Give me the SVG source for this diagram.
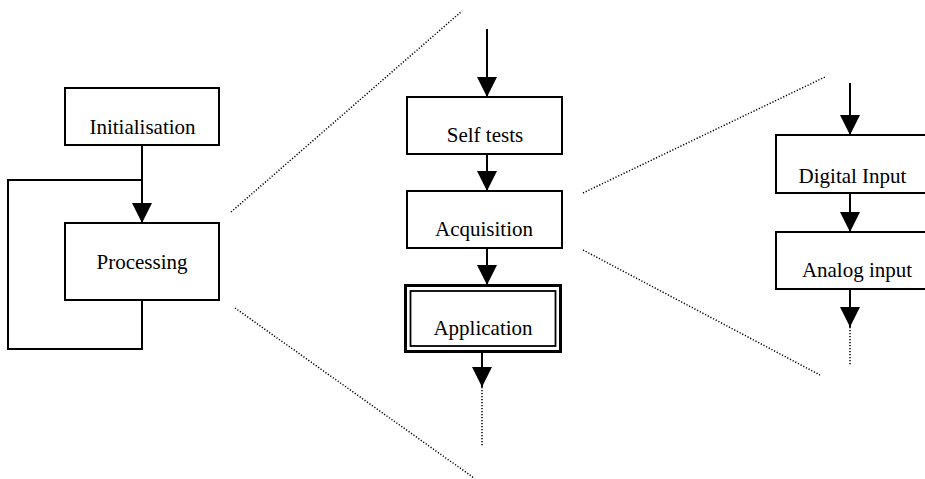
<svg xmlns="http://www.w3.org/2000/svg" width="925" height="479" viewBox="0 0 925 479">
  <style>
    .box { fill: #fff; stroke: #000; stroke-width: 2; }
    .outer { fill: #fff; stroke: #000; stroke-width: 3; }
    .inner { fill: none; stroke: #000; stroke-width: 1.8; }
    .lbl { font-family: "Liberation Serif", "Times New Roman", serif; font-size: 21px; text-anchor: middle; fill: #000; }
    .flow { fill: none; stroke: #000; stroke-width: 2; }
    .dots { fill: none; stroke: #000; stroke-width: 1.5; stroke-dasharray: 1.2 1.8; }
  </style>
  <defs>
    <marker id="tri" markerUnits="userSpaceOnUse" markerWidth="20" markerHeight="20" viewBox="0 -10 20 20" refX="20" refY="0" orient="auto">
      <path d="M0,-10 L20,0 L0,10 Z" fill="#000"/>
    </marker>
  </defs>

  <!-- zoom guide lines -->
  <g id="zoom-guides">
    <line class="dots" x1="231" y1="212" x2="462" y2="11"/>
    <line class="dots" x1="235" y1="308" x2="474" y2="478"/>
    <line class="dots" x1="583" y1="193" x2="825" y2="77"/>
    <line class="dots" x1="583" y1="250" x2="820" y2="375"/>
  </g>

  <!-- connectors -->
  <g id="connectors">
    <polyline class="flow" points="142,300 142,349 8,349 8,180 142,180"/>
    <line class="flow" x1="142" y1="145" x2="142" y2="223" marker-end="url(#tri)"/>
    <line class="flow" x1="487" y1="29" x2="487" y2="97" marker-end="url(#tri)"/>
    <line class="flow" x1="487" y1="154" x2="487" y2="191" marker-end="url(#tri)"/>
    <line class="flow" x1="487" y1="248" x2="487" y2="285" marker-end="url(#tri)"/>
    <line class="flow" x1="482" y1="353" x2="482" y2="387" marker-end="url(#tri)"/>
    <line class="dots" x1="482" y1="387" x2="482" y2="447"/>
    <line class="flow" x1="850" y1="83" x2="850" y2="135" marker-end="url(#tri)"/>
    <line class="flow" x1="850" y1="193" x2="850" y2="232" marker-end="url(#tri)"/>
    <line class="flow" x1="850" y1="289" x2="850" y2="327" marker-end="url(#tri)"/>
    <line class="dots" x1="850" y1="327" x2="850" y2="365"/>
  </g>

  <g id="initialisation">
    <rect class="box" x="65" y="88" width="154" height="57"/>
    <text class="lbl" x="142.5" y="134">Initialisation</text>
  </g>
  <g id="processing">
    <rect class="box" x="65" y="223" width="154" height="77"/>
    <text class="lbl" x="142" y="269">Processing</text>
  </g>

  <g id="self-tests">
    <rect class="box" x="407" y="97" width="155" height="57"/>
    <text class="lbl" x="485" y="142">Self tests</text>
  </g>
  <g id="acquisition">
    <rect class="box" x="407" y="191" width="155" height="57"/>
    <text class="lbl" x="484" y="236">Acquisition</text>
  </g>
  <g id="application">
    <rect class="outer" x="405.5" y="285.5" width="155" height="66"/>
    <rect class="inner" x="410.5" y="291" width="145" height="55"/>
    <text class="lbl" x="483" y="335">Application</text>
  </g>

  <g id="digital-input">
    <rect class="box" x="776" y="135" width="160" height="58"/>
    <text class="lbl" x="852.5" y="183">Digital Input</text>
  </g>
  <g id="analog-input">
    <rect class="box" x="776" y="232" width="160" height="57"/>
    <text class="lbl" x="857" y="277">Analog input</text>
  </g>
</svg>
